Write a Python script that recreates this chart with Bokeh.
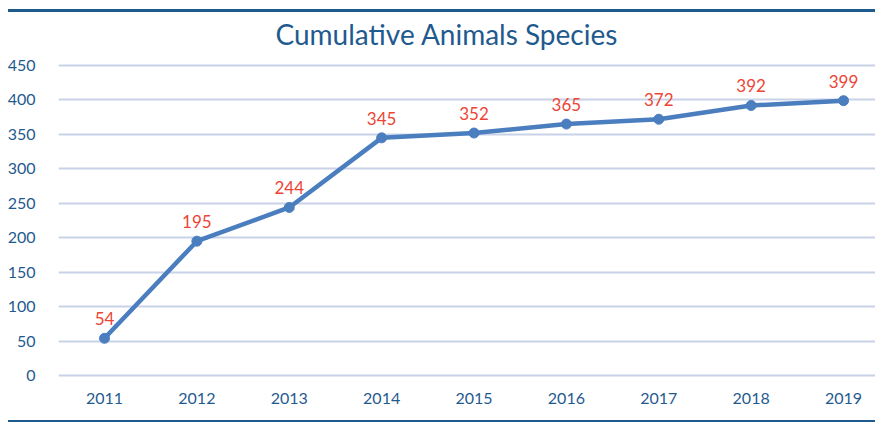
from bokeh.plotting import figure
from bokeh.models import (Range1d, FixedTicker, ColumnDataSource, LabelSet,
                          Title)
from bokeh.core.properties import value
from bokeh.embed import file_html
from bokeh.resources import INLINE

# Cumulative count of recorded animal species per year
years = [2011, 2012, 2013, 2014, 2015, 2016, 2017, 2018, 2019]
species = [54, 195, 244, 345, 352, 365, 372, 392, 399]
y_ticks = [0, 50, 100, 150, 200, 250, 300, 350, 400, 450]

BLUE_DARK = "#1f5a8f"
LINE_BLUE = "#4a7ebf"
GRID = "#c8d2e8"
RED = "#ec4536"
FONT = "Lato"

src = ColumnDataSource(dict(
    x=years, y=species, label=[str(v) for v in species]))

p = figure(width=875, height=422, output_backend="svg", toolbar_location=None,
           x_range=Range1d(2010.502, 2019.346), y_range=Range1d(-4.35, 457.3),
           min_border_left=58, min_border_right=0, min_border_top=60,
           min_border_bottom=44)
p.outline_line_color = None
p.background_fill_color = "white"
# transparent border so the page rules drawn behind the canvas show through
p.border_fill_alpha = 0
p.styles = {
    "background-color": "white",
    "background-image": (f"linear-gradient({BLUE_DARK}, {BLUE_DARK}), "
                         f"linear-gradient({BLUE_DARK}, {BLUE_DARK})"),
    "background-size": "867px 3px, 867px 2px",
    "background-position": "8px 9px, 8px 420px",
    "background-repeat": "no-repeat",
}

p.title = Title(text="Cumulative Animals Species", align="left",
                text_font=FONT, text_font_size="28px", text_font_style="normal",
                text_color=BLUE_DARK, offset=217, standoff=19)

# axes
p.xaxis.ticker = FixedTicker(ticks=years)
p.yaxis.ticker = FixedTicker(ticks=y_ticks)
for ax in (p.xaxis[0], p.yaxis[0]):
    ax.axis_line_color = None
    ax.major_tick_line_color = None
    ax.minor_tick_line_color = None
    ax.major_label_text_font = FONT
    ax.major_label_text_font_size = "16px"
    ax.major_label_text_color = BLUE_DARK
p.yaxis.major_label_standoff = 17
p.xaxis.major_label_standoff = 8

p.xgrid.grid_line_color = None
p.ygrid.grid_line_color = GRID
p.ygrid.grid_line_width = 2

# series
p.line("x", "y", source=src, line_color=LINE_BLUE, line_width=4.5)
p.scatter("x", "y", source=src, size=10, fill_color=LINE_BLUE,
          line_color=LINE_BLUE)

labels = LabelSet(x="x", y="y", text="label", source=src, text_align="center",
                  text_baseline="bottom", y_offset=13, text_font=value(FONT),
                  text_font_size=value("17px"), text_color=value(RED))
p.add_layout(labels)

open("out.html", "w").write(file_html(p, INLINE))
